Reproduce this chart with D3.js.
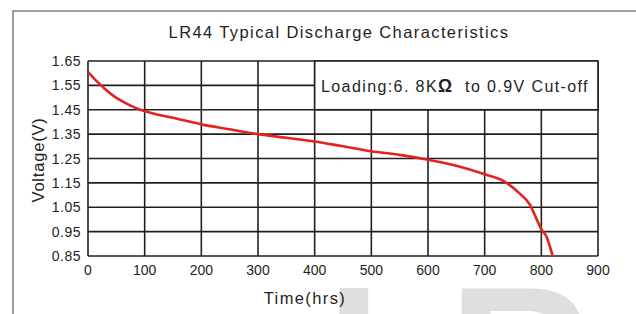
<!DOCTYPE html>
<html><head><meta charset="utf-8">
<script src="https://cdn.jsdelivr.net/npm/d3@7"></script>
<style>body{margin:0;background:#fff}svg{display:block}</style>
</head><body>
<script>
const timeHrs = [0, 10, 20, 30, 45, 60, 75, 95, 120, 150, 200, 250, 300, 350, 400, 450, 500, 550, 600, 650, 700, 735, 760, 780, 790, 800, 810, 815, 820];
const voltage = [1.605, 1.58, 1.557, 1.535, 1.507, 1.485, 1.467, 1.448, 1.432, 1.417, 1.39, 1.37, 1.35, 1.335, 1.32, 1.30, 1.28, 1.265, 1.245, 1.22, 1.185, 1.155, 1.11, 1.06, 1.01, 0.96, 0.925, 0.89, 0.85];
const xTicks = [0, 100, 200, 300, 400, 500, 600, 700, 800, 900];
const yTicks = [0.85, 0.95, 1.05, 1.15, 1.25, 1.35, 1.45, 1.55, 1.65];
const titleText = "LR44 Typical Discharge Characteristics";
const xTitle = "Time(hrs)";
const yTitle = "Voltage(V)";

const W = 636, H = 314;
const svg = d3.select("body").append("svg").attr("width", W).attr("height", H);
const font = "Liberation Sans, Arial, sans-serif";

// watermark
svg.append("text").attr("x", 326).attr("y", 426).attr("font-family", font)
  .attr("font-weight", "bold").attr("font-size", 200).attr("fill", "#dfdfdf").text("LR44");

// frame
svg.append("path").attr("d", `M13,${H} L13,11 L${W},11`).attr("fill", "none")
  .attr("stroke", "#808080").attr("stroke-width", 1.5);

const x = d3.scaleLinear().domain([0, 900]).range([88, 598]);
const y = d3.scaleLinear().domain([0.85, 1.65]).range([256, 61]);
const gridColor = "#231f20";

const g = svg.append("g");
g.selectAll("line.v").data(xTicks).join("line")
  .attr("x1", d => x(d)).attr("x2", d => x(d)).attr("y1", y(0.85)).attr("y2", y(1.65))
  .attr("stroke", gridColor).attr("stroke-width", 1.6);
g.selectAll("line.h").data(yTicks).join("line")
  .attr("x1", x(0)).attr("x2", x(900)).attr("y1", d => y(d)).attr("y2", d => y(d))
  .attr("stroke", gridColor).attr("stroke-width", 1.6);

// legend box (covers grid area 400-900, 1.45-1.65)
svg.append("rect").attr("x", x(400)).attr("y", y(1.65)).attr("width", x(900) - x(400))
  .attr("height", y(1.45) - y(1.65)).attr("fill", "#fff").attr("stroke", gridColor).attr("stroke-width", 1.6);
const lt = svg.append("text").attr("x", 321).attr("y", 92).attr("font-family", font)
  .attr("font-size", 16).attr("letter-spacing", 1.4).attr("fill", "#231f20");
lt.append("tspan").text("Loading:6. 8K");
lt.append("tspan").attr("font-weight", "bold").attr("font-size", 17.5).text("Ω");
lt.append("tspan").text("\u00a0 to 0.9V Cut-off");

// curve
const line = d3.line().x((d, i) => x(timeHrs[i])).y(d => y(d)).curve(d3.curveMonotoneX);
svg.append("path").datum(voltage).attr("d", line).attr("fill", "none")
  .attr("stroke", "#e3231f").attr("stroke-width", 2.6);

// tick labels
svg.selectAll("text.xt").data(xTicks).join("text").attr("class", "xt")
  .attr("x", d => x(d)).attr("y", 275).attr("text-anchor", "middle")
  .attr("font-family", font).attr("font-size", 14).attr("fill", "#231f20")
  .text(d => d);
svg.selectAll("text.yt").data(yTicks).join("text").attr("class", "yt")
  .attr("x", 81).attr("y", d => y(d) + 5).attr("text-anchor", "end")
  .attr("font-family", font).attr("font-size", 14).attr("letter-spacing", 0.5).attr("fill", "#231f20")
  .text(d => d.toFixed(2));

// titles
svg.append("text").attr("x", 339).attr("y", 38).attr("text-anchor", "middle")
  .attr("font-family", font).attr("font-size", 16.5).attr("letter-spacing", 1.4).attr("fill", "#231f20").text(titleText);
svg.append("text").attr("x", 305).attr("y", 304).attr("text-anchor", "middle")
  .attr("font-family", font).attr("font-size", 16.5).attr("letter-spacing", 1.4).attr("fill", "#231f20").text(xTitle);
svg.append("text").attr("transform", "translate(44,160) rotate(-90)").attr("text-anchor", "middle")
  .attr("font-family", font).attr("font-size", 16.5).attr("letter-spacing", 0.8).attr("fill", "#231f20").text(yTitle);
</script>
</body></html>
